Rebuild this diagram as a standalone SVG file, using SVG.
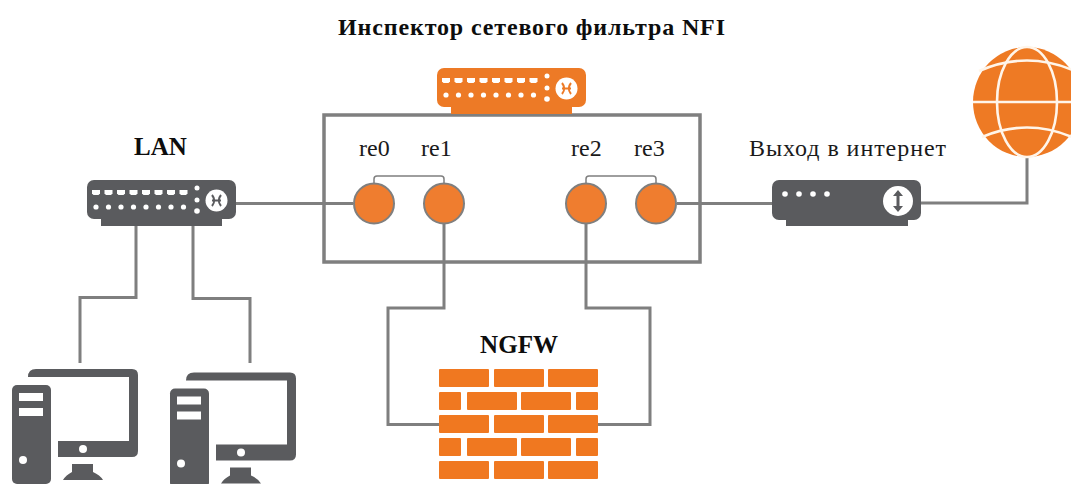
<svg xmlns="http://www.w3.org/2000/svg" width="1071" height="484" viewBox="0 0 1071 484">
<style>
text{font-family:"Liberation Serif","Times New Roman",serif;fill:#1a1a1a;font-size:24px}
.b{font-weight:bold;font-size:25px;fill:#0d0d0d}
.t{font-weight:bold;font-size:24px;fill:#0d0d0d}
.w{fill:none;stroke:#7f7f7f;stroke-width:3;stroke-linejoin:miter}
.thin{fill:none;stroke:#7f7f7f;stroke-width:1.5}
.port{fill:#ef7d2f;stroke:#7f7f7f;stroke-width:2}
.brick{fill:#f07820}
.dk{fill:#5a5b5e}
.lw{fill:#fff}
.gl{fill:none;stroke:#fff5ea;stroke-width:2.6}
</style>
<defs>
<g id="sw">
<rect x="87" y="180" width="149" height="39" rx="7" fill="currentColor"/>
<rect x="101" y="215" width="121" height="11" fill="currentColor"/>
<g fill="#fff">
<path id="p" d="M92 190h8v3.500l-1.500 1.500h-5l-1.500-1.500z"/><path d="M104.500 190h8v3.500l-1.500 1.500h-5l-1.500-1.500z"/><path d="M117 190h8v3.500l-1.500 1.500h-5l-1.500-1.500z"/><path d="M129.500 190h8v3.500l-1.500 1.500h-5l-1.500-1.500z"/><path d="M142 190h8v3.500l-1.500 1.500h-5l-1.500-1.500z"/><path d="M154.500 190h8v3.500l-1.500 1.500h-5l-1.500-1.500z"/><path d="M167 190h8v3.500l-1.500 1.500h-5l-1.500-1.500z"/><path d="M179.500 190h8v3.500l-1.500 1.500h-5l-1.500-1.500z"/>
<circle cx="96" cy="207" r="2.600"/><circle cx="108.500" cy="207" r="2.600"/><circle cx="121" cy="207" r="2.600"/><circle cx="133.500" cy="207" r="2.600"/><circle cx="146" cy="207" r="2.600"/><circle cx="158.500" cy="207" r="2.600"/><circle cx="171" cy="207" r="2.600"/><circle cx="183.500" cy="207" r="2.600"/>
<circle cx="197" cy="188" r="2.500"/><circle cx="197" cy="200" r="2.500"/><circle cx="197" cy="211" r="2.800"/>
<circle cx="216.500" cy="200.500" r="11"/>
</g>
<path d="M212 195q4.500 5.500 0 11M221 195q-4.500 5.500 0 11M212 200.500h9" stroke="currentColor" stroke-width="2" fill="none"/>
</g>
<g id="pc">
<rect class="dk" x="12" y="385" width="39" height="99" rx="5"/>
<rect class="lw" x="19" y="393" width="24" height="8"/>
<rect class="lw" x="19" y="408" width="24" height="8"/>
<circle class="lw" cx="23" cy="460" r="4"/>
<path class="dk" d="M28 377q0-8 8-8H132q6 0 6 6V451q0 6-6 6H58V441H129V377Z"/>
<circle class="lw" cx="83" cy="449" r="4"/>
<path class="dk" d="M72 464H93V472Q100 475 103 480H63Q66 475 72 472Z"/>
</g>
</defs>
<rect width="1071" height="484" fill="#fff"/>

<g id="connectors">
<path class="w" d="M236 203.500H353"/>
<path class="w" d="M136 226V297.500H80V363"/>
<path class="w" d="M193 226V298.500H250V363"/>
<path class="w" d="M444 224V308H388V424.500H439"/>
<path class="w" d="M586 224V308H650V424.500H598"/>
<path class="w" d="M677 203.500H772"/>
<path class="w" d="M921 203H1027V157"/>
<path class="thin" d="M374 183V179q0-3 3-3H441q3 0 3 3V183"/>
<path class="thin" d="M586 183V179q0-3 3-3H653q3 0 3 3V183"/>
</g>

<g id="title"><text class="t" x="338" y="35" textLength="387">Инспектор сетевого фильтра NFI</text></g>

<g id="nfi-box"><rect x="324" y="115" width="376" height="147" fill="none" stroke="#7f7f7f" stroke-width="3.500"/></g>

<g id="nfi-switch"><use href="#sw" x="350" y="-112" color="#ed7a26"/></g>

<g id="re0"><circle class="port" cx="374" cy="203.500" r="20"/><text x="359" y="156">re0</text></g>
<g id="re1"><circle class="port" cx="444" cy="203.500" r="20"/><text x="421" y="156">re1</text></g>
<g id="re2"><circle class="port" cx="586" cy="203.500" r="20"/><text x="571" y="156">re2</text></g>
<g id="re3"><circle class="port" cx="656" cy="203.500" r="20"/><text x="634" y="156">re3</text></g>

<g id="lan"><text class="b" x="134" y="155">LAN</text><use href="#sw" color="#5a5b5e"/></g>
<g id="pc1"><use href="#pc"/></g>
<g id="pc2"><use href="#pc" x="158" y="3.500"/></g>

<g id="router">
<text x="749" y="156" textLength="197">Выход в интернет</text>
<rect class="dk" x="772" y="180" width="149" height="40" rx="7"/>
<rect class="dk" x="786" y="215" width="122" height="11"/>
<g class="lw"><circle cx="785" cy="194" r="2.800"/><circle cx="799" cy="194" r="2.800"/><circle cx="813" cy="194" r="2.800"/><circle cx="827" cy="194" r="2.800"/><circle cx="898" cy="201" r="15"/></g>
<path d="M898 193V209" stroke="#5a5b5e" stroke-width="3" fill="none"/>
<path class="dk" d="M898 190l5 6h-10ZM898 212l5-6h-10Z"/>
</g>

<g id="globe">
<ellipse cx="1027" cy="102" rx="54" ry="55" fill="#ee7a24"/>
<ellipse class="gl" cx="1027" cy="102" rx="30" ry="55"/>
<path class="gl" d="M973 102H1081M979 71Q1027 50 1075 71M982 137Q1027 118 1072 137"/>
</g>

<g id="ngfw">
<text class="b" x="480" y="353" textLength="78">NGFW</text>
<rect class="brick" rx="1" x="439" y="369" width="50" height="18"/><rect class="brick" rx="1" x="494" y="369" width="50" height="18"/><rect class="brick" rx="1" x="548" y="369" width="50" height="18"/>
<rect class="brick" rx="1" x="439" y="392" width="22" height="18"/><rect class="brick" rx="1" x="467" y="392" width="50" height="18"/><rect class="brick" rx="1" x="521" y="392" width="50" height="18"/><rect class="brick" rx="1" x="576" y="392" width="22" height="18"/>
<rect class="brick" rx="1" x="439" y="415" width="50" height="18"/><rect class="brick" rx="1" x="494" y="415" width="50" height="18"/><rect class="brick" rx="1" x="548" y="415" width="50" height="18"/>
<rect class="brick" rx="1" x="439" y="438" width="22" height="18"/><rect class="brick" rx="1" x="467" y="438" width="50" height="18"/><rect class="brick" rx="1" x="521" y="438" width="50" height="18"/><rect class="brick" rx="1" x="576" y="438" width="22" height="18"/>
<rect class="brick" rx="1" x="439" y="461" width="50" height="18"/><rect class="brick" rx="1" x="494" y="461" width="50" height="18"/><rect class="brick" rx="1" x="548" y="461" width="50" height="18"/>
</g>
</svg>
